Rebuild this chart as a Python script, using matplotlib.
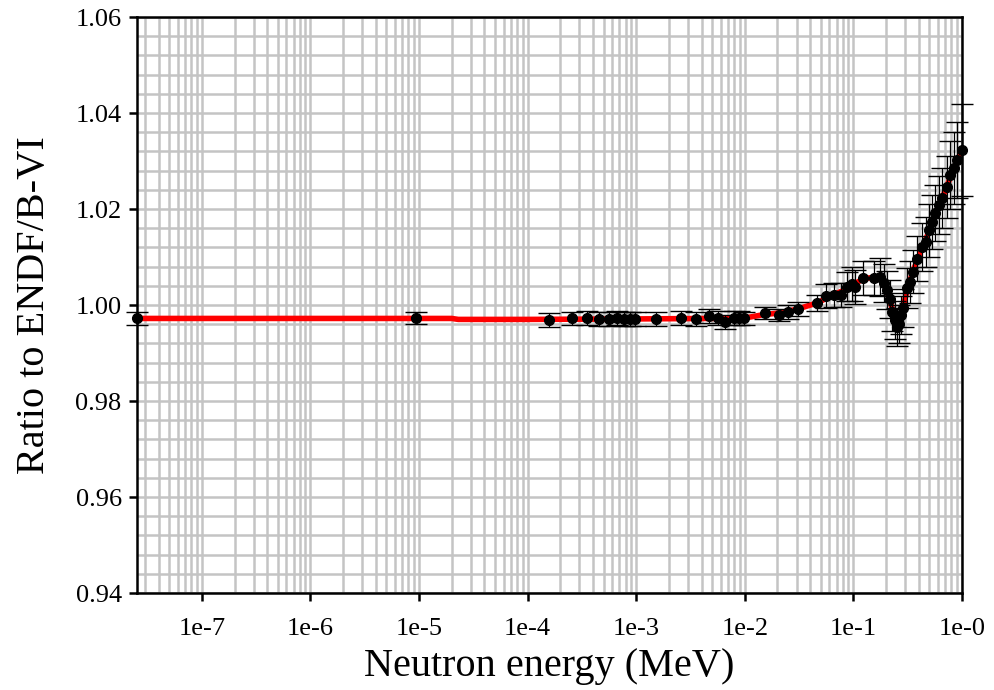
import matplotlib
matplotlib.use("Agg")
import matplotlib.pyplot as plt
from matplotlib.ticker import LogLocator, MultipleLocator, FixedLocator, NullFormatter

plt.rcParams['font.family'] = ['Liberation Serif', 'DejaVu Serif']

# ---- data ----
energy = [2.53e-8, 9.4e-6, 1.56e-4, 2.54e-4, 3.56e-4, 4.5e-4, 5.56e-4, 6.6e-4, 7.66e-4,
          8.7e-4, 9.66e-4, 1.51e-3, 2.57e-3, 3.53e-3, 4.66e-3, 5.64e-3, 6.53e-3, 7.92e-3,
          8.8e-3, 9.8e-3, 1.53e-2, 2.06e-2, 2.5e-2, 3.08e-2, 4.6e-2, 5.6e-2, 6.6e-2, 7.7e-2,
          8.7e-2, 9.7e-2, 1.035e-1, 1.23e-1, 1.55e-1, 1.76e-1, 1.91e-1, 2.04e-1, 2.18e-1,
          2.27e-1, 2.42e-1, 2.52e-1, 2.62e-1, 2.75e-1, 2.87e-1, 3.12e-1, 3.33e-1, 3.55e-1,
          3.86e-1, 4.3e-1, 4.68e-1, 4.98e-1, 5.3e-1, 5.66e-1, 6.17e-1, 6.56e-1, 7.3e-1,
          7.78e-1, 8.47e-1, 9.04e-1, 1.0]
ratio = [0.9972, 0.9973, 0.9969, 0.9972, 0.9973, 0.9971, 0.9971, 0.9973, 0.9971,
         0.9971, 0.9971, 0.9971, 0.9973, 0.9971, 0.9977, 0.9973, 0.9965, 0.9973,
         0.9973, 0.9972, 0.9983, 0.9979, 0.9985, 0.9992, 1.0004, 1.0019, 1.0021, 1.0021,
         1.0038, 1.0044, 1.0038, 1.0056, 1.0056, 1.0058, 1.0046, 1.0031, 1.0012,
         0.9985, 0.9969, 0.9954, 0.9960, 0.9979, 0.9994, 1.0035, 1.0048, 1.0069,
         1.0096, 1.0121, 1.0131, 1.0156, 1.0173, 1.0192, 1.0208, 1.0223, 1.0246,
         1.0271, 1.0285, 1.0302, 1.0323]
error = [0.0013, 0.0013, 0.0014, 0.0014, 0.0014, 0.0014, 0.0014, 0.0014, 0.0014,
         0.0014, 0.0014, 0.0014, 0.0014, 0.0014, 0.0014, 0.0014, 0.0014, 0.0014,
         0.0014, 0.0014, 0.0013, 0.0013, 0.0014, 0.0015, 0.0017, 0.0025, 0.0025, 0.0025,
         0.0030, 0.0035, 0.0035, 0.0035, 0.0035, 0.0040, 0.0040, 0.0040, 0.0040,
         0.0040, 0.0040, 0.0040, 0.0040, 0.0040, 0.0040, 0.0042, 0.0044, 0.0045,
         0.0047, 0.0050, 0.0052, 0.0055, 0.0057, 0.0058, 0.0060, 0.0062, 0.0065,
         0.0070, 0.0075, 0.0080, 0.0095]

curve_energy = [2.53e-8, 2.0e-5, 2.3e-5, 1.0e-4, 1.0e-3, 5.0e-3, 1.0e-2, 1.5e-2, 2.0e-2,
                3.0e-2, 4.6e-2, 6.0e-2, 8.0e-2, 1.0e-1, 1.25e-1, 1.6e-1, 1.8e-1, 2.0e-1,
                2.2e-1, 2.4e-1, 2.5e-1, 2.6e-1, 2.8e-1, 3.0e-1, 3.5e-1, 4.0e-1, 5.0e-1,
                6.0e-1, 7.0e-1, 8.0e-1, 9.0e-1, 1.0]
curve_ratio = [0.9972, 0.9972, 0.9970, 0.9970, 0.9971, 0.9972, 0.9973, 0.9980, 0.9983,
               0.9991, 1.0004, 1.0017, 1.0030, 1.0043, 1.0055, 1.0058, 1.0055, 1.0035,
               1.0005, 0.9972, 0.9958, 0.9960, 0.9982, 1.0015, 1.0068, 1.0101, 1.0155,
               1.0203, 1.0238, 1.0272, 1.0300, 1.0323]

x_ticks = [1e-7, 1e-6, 1e-5, 1e-4, 1e-3, 1e-2, 1e-1, 1e0]
x_tick_labels = ['1e-7', '1e-6', '1e-5', '1e-4', '1e-3', '1e-2', '1e-1', '1e-0']
y_ticks = [0.94, 0.96, 0.98, 1.00, 1.02, 1.04, 1.06]
y_tick_labels = ['0.94', '0.96', '0.98', '1.00', '1.02', '1.04', '1.06']

# ---- figure ----
fig = plt.figure(figsize=(9.95, 6.9), dpi=100)
ax = fig.add_axes([137 / 995, 97 / 690, 825 / 995, 576 / 690])

ax.set_xscale('log')
ax.set_xlim(2.53e-8, 1.0)
ax.set_ylim(0.94, 1.06)

ax.xaxis.set_major_locator(FixedLocator(x_ticks))
ax.set_xticklabels(x_tick_labels)
ax.xaxis.set_minor_locator(LogLocator(base=10, subs=range(2, 10), numticks=20))
ax.xaxis.set_minor_formatter(NullFormatter())
ax.yaxis.set_major_locator(FixedLocator(y_ticks))
ax.set_yticklabels(y_tick_labels)
ax.yaxis.set_minor_locator(MultipleLocator(0.004))

ax.grid(True, which='both', color='#c4c4c4', lw=1.8, zorder=0)
ax.set_axisbelow(True)

ax.plot(curve_energy, curve_ratio, color='#ff0000', lw=4, zorder=2, clip_on=False)
ax.errorbar(energy, ratio, yerr=error, fmt='o', color='black', ms=7,
            ecolor='black', elinewidth=0.9, capsize=8, capthick=1.0, zorder=3,
            clip_on=False)

for s in ax.spines.values():
    s.set_linewidth(1.8)
    s.set_color('black')

ax.tick_params(axis='both', which='major', direction='out', length=6, width=1.8,
               labelsize=19, top=False, right=False)
ax.tick_params(axis='x', which='major', pad=12)
ax.tick_params(axis='y', which='major', pad=5)
ax.tick_params(which='minor', length=0)

ax.set_xlabel('Neutron energy (MeV)', fontsize=29, labelpad=6)
ax.set_ylabel('Ratio to ENDF/B-VI', fontsize=29, labelpad=16)

fig.savefig('out.png', dpi=100)
